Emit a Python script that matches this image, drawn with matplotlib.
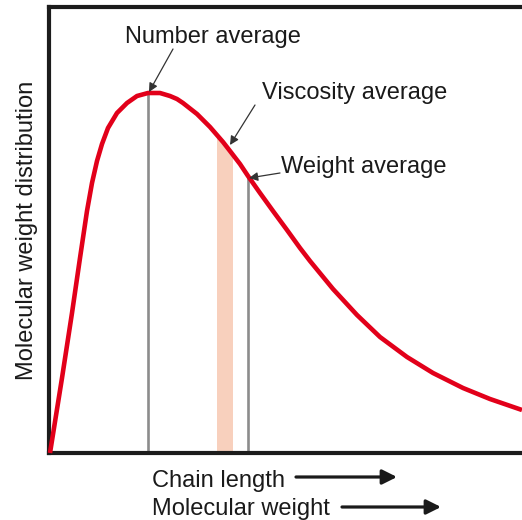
import numpy as np
import matplotlib
matplotlib.use("Agg")
import matplotlib.pyplot as plt
from matplotlib.patches import Polygon

plt.rcParams['font.family'] = ['Liberation Sans', 'DejaVu Sans']

# distribution curve (arbitrary units)
chain_x = [1, 13, 23, 31, 38, 43, 48, 53, 59, 68, 78, 88, 99, 111, 121, 128, 134,
           148, 161, 174, 181, 191, 199, 211, 224, 238, 251, 261, 284, 308, 331,
           358, 384, 414, 441, 473]
dist_y = [0, 75, 140, 195, 242, 270, 292, 309, 325, 340, 350, 357, 360, 360, 357,
          354, 350, 339, 326, 311, 302, 289, 277, 260, 242, 223, 205, 192, 164,
          138, 116, 96, 80, 65, 54, 43]

number_avg = (99, 360)
weight_avg = (199, 277)
viscosity_band = (168, 184)

W, H = 522, 520
fig = plt.figure(figsize=(W / 100, H / 100), dpi=100)
ax = fig.add_axes([49 / W, 1 - 453 / H, (W - 49) / W, 446 / H])
ax.set_xlim(0, 473)
ax.set_ylim(0, 446)

# band under the curve, clipped by the curve area
under = Polygon(list(zip([0] + chain_x + [chain_x[-1]], [0] + dist_y + [0])),
                closed=True, transform=ax.transData, facecolor='none', edgecolor='none')
ax.add_patch(under)
band = ax.axvspan(viscosity_band[0], viscosity_band[1], color='#f8d0bd', lw=0, zorder=1)
band.set_clip_path(under)

ax.vlines([number_avg[0], weight_avg[0]], 0, [number_avg[1], weight_avg[1]],
          color='#8c8c8c', lw=1.9, zorder=2)
ax.plot(chain_x, dist_y, color='#e2001a', lw=3.3, solid_capstyle='butt',
        solid_joinstyle='round', zorder=3, clip_on=False)

ax.spines['right'].set_visible(False)
for side in ['left', 'bottom', 'top']:
    ax.spines[side].set_linewidth(3)
    ax.spines[side].set_color('#1c1c1c')
ax.set_xticks([])
ax.set_yticks([])


def px(x, y):
    return (x / W, 1 - y / H)


fs = 17
tc = '#1a1a1a'
fig.text(*px(125, 43), 'Number average', fontsize=fs, color=tc, va='baseline')
fig.text(*px(262, 99), 'Viscosity average', fontsize=fs, color=tc, va='baseline')
fig.text(*px(281, 173), 'Weight average', fontsize=fs, color=tc, va='baseline')
fig.text(*px(33, 230), 'Molecular weight distribution', fontsize=fs, color=tc,
         rotation=90, ha='center', va='baseline', rotation_mode='anchor')
fig.text(*px(152, 487), 'Chain length', fontsize=fs, color=tc, va='baseline')
fig.text(*px(152, 515), 'Molecular weight', fontsize=fs, color=tc, va='baseline')

thin = dict(arrowstyle='-|>', color='#333333', lw=0.9, mutation_scale=13,
            shrinkA=0, shrinkB=0)
for tail, head in [((173, 49), (149, 92)), ((255, 105), (230, 145)),
                   ((280, 173), (249, 178))]:
    ax.annotate('', xy=px(*head), xycoords='figure fraction',
                xytext=px(*tail), textcoords='figure fraction',
                arrowprops=thin, annotation_clip=False)

thick = dict(arrowstyle='-|>', color='#1a1a1a', lw=2.3, mutation_scale=22,
             shrinkA=0, shrinkB=0)
for tail, head in [((296, 477), (397, 477)), ((342, 507), (441, 507))]:
    ax.annotate('', xy=px(*head), xycoords='figure fraction',
                xytext=px(*tail), textcoords='figure fraction',
                arrowprops=thick, annotation_clip=False)

fig.savefig('out.png', dpi=100)
